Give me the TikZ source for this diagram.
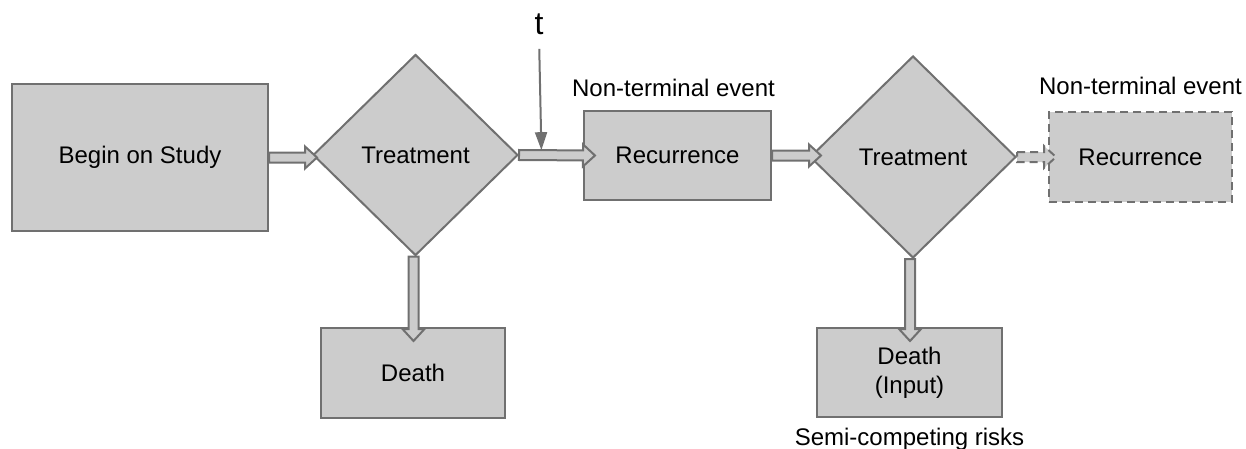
\documentclass[tikz,border=0pt]{standalone}
\usepackage{fontspec}
\setmainfont{Liberation Sans}
\usetikzlibrary{shapes.geometric, arrows.meta, positioning, calc}
\definecolor{boxgray}{RGB}{204,204,204}
\definecolor{edgegray}{RGB}{112,112,112}
\tikzstyle{stage} = [rectangle, draw=edgegray, fill=boxgray, line width=1pt, align=center, font=\fontsize{12}{14.5}\selectfont]
\tikzstyle{decision} = [diamond, draw=edgegray, fill=boxgray, line width=1pt, inner sep=0pt, align=center, font=\fontsize{12}{14.5}\selectfont]
\tikzstyle{caption} = [inner sep=1pt, font=\fontsize{12}{14.5}\selectfont]
\tikzstyle{cue} = [draw=edgegray, line width=1pt, -{Triangle[length=9pt,width=6pt]}]
\tikzstyle{flow} = [draw=edgegray, fill=boxgray, line width=1pt, line join=miter,
    to path={($(\tikztostart)!2.5pt!90:(\tikztotarget)$)
      -- ($(\tikztotarget)!6pt!(\tikztostart)!2.5pt!-90:(\tikztostart)$)
      -- ($(\tikztotarget)!6pt!(\tikztostart)!5.5pt!-90:(\tikztostart)$)
      -- (\tikztotarget)
      -- ($(\tikztotarget)!6pt!(\tikztostart)!5.5pt!90:(\tikztostart)$)
      -- ($(\tikztotarget)!6pt!(\tikztostart)!2.5pt!90:(\tikztostart)$)
      -- ($(\tikztostart)!2.5pt!-90:(\tikztotarget)$) -- cycle \tikztonodes}]

\begin{document}
\begin{tikzpicture}[x=0.5pt, y=-0.5pt]
    \useasboundingbox (0,0) rectangle (1246,449);

    % First row nodes
    \node[stage, minimum width=128pt, minimum height=73.5pt] (begin) at (140,157.5) {Begin on Study};
    \node[decision, minimum width=102.5pt, minimum height=100.5pt] (treat1) at (415.5,155) {Treatment};
    \node[stage, minimum width=93.5pt, minimum height=44.5pt] (rec1) at (677.5,155.5) {Recurrence};
    \node[decision, minimum width=103pt, minimum height=101pt] (treat2) at (913,157) {Treatment};
    \node[stage, dash pattern=on 4pt off 2.5pt, minimum width=91.5pt, minimum height=45pt] (rec2) at (1140.5,157) {Recurrence};

    % Labels over the recurrences
    \node[caption, above=5.5pt of rec1, xshift=-2pt] (event1) {Non-terminal event};
    \node[caption, above=7pt of rec2] (event2) {Non-terminal event};

    % Death nodes
    \node[stage, minimum width=92pt, minimum height=45pt] (death1) at (413,373) {Death};
    \node[stage, minimum width=92.5pt, minimum height=44.5pt] (death2) at (909.5,372.5) {Death\\(Input)};
    \node[caption, below=4pt of death2] (semi) {Semi-competing risks};

    % Block arrows
    \draw[flow] (begin.east) to ([xshift=2.5pt]begin.east -| treat1.west);
    \draw[flow] (treat1.east) to ([xshift=6pt]rec1.west);
    \draw[flow] (rec1.east) to ([xshift=6pt]rec1.east -| treat2.west);
    \draw[flow, dash pattern=on 4pt off 2.5pt] (treat2.east) to ([xshift=4pt]treat2.east -| rec2.west);
    \draw[flow] ([xshift=-1pt]treat1.south) to ([xshift=-1pt, yshift=-7pt]treat1.south |- death1.north);
    \draw[flow] ([xshift=-1.5pt]treat2.south) to ([xshift=-1.5pt, yshift=-7pt]treat2.south |- death2.north);

    % Time point t
    \node[inner sep=1pt, font=\fontsize{16}{18}\selectfont] (t) at (539,24) {t};
    \coordinate (tpt) at ($(treat1.east)!0.35!(rec1.west)$);
    \draw[cue, shorten <=6pt] (t.south) -- ([yshift=2.5pt]tpt);
\end{tikzpicture}
\end{document}
